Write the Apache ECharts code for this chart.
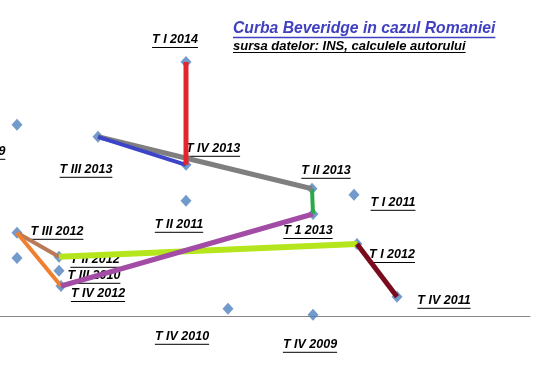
<!DOCTYPE html>
<html>
<head>
<meta charset="utf-8">
<script src="https://cdn.jsdelivr.net/npm/echarts@6/dist/echarts.min.js"></script>
<style>html,body{margin:0;padding:0;background:#fff}#c{width:551px;height:387px}</style>
</head>
<body>
<div id="c"></div>
<script>
// Quarter labels, unemployment rate (x) and vacancy rate (y)
const quarters = ['T IV 2009','T III 2010','T IV 2010','T I 2011','T II 2011','T IV 2011','T I 2012','T II 2012','T III 2012','T IV 2012','T 1 2013','T II 2013','T III 2013','T IV 2013','T I 2014','T III 2009',''];
const unemployment = [7.565, 6.295, 7.14, 7.77, 6.93, 7.985, 7.785, 6.295, 6.085, 6.305, 7.565, 7.56, 6.49, 6.93, 6.93, 6.085, 6.085];
const vacancy      = [0.403, 0.513, 0.418, 0.703, 0.688, 0.448, 0.58, 0.548, 0.608, 0.475, 0.655, 0.718, 0.848, 0.778, 1.035, 0.878, 0.545];

// Connected path segments (from quarter, to quarter)
const segments = [
  ['T III 2012','T II 2012'],
  ['T III 2012','T IV 2012'],
  ['T II 2012','T I 2012'],
  ['T I 2012','T IV 2011'],
  ['T IV 2012','T 1 2013'],
  ['T 1 2013','T II 2013'],
  ['T II 2013','T III 2013'],
  ['T III 2013','T IV 2013'],
  ['T IV 2013','T I 2014']
];

const titleText = 'Curba Beveridge in cazul Romaniei';
const subtitleText = 'sursa datelor: INS, calculele autorului';

// ---- styles / positions ----
const segColors = ['#B97A57','#F07F2F','#B5E61D','#7A0A1E','#A24CA6','#2BA84A','#7F7F7F','#3C45C8','#E3262E'];
const segWidths = [4,4,6,5,5,4,5,4,5];
const labelOffsets = [[-3,30],[35,5],[-46,28],[39,8],[-7,24],[47,4],[35,11],[36,3],[40,-1],[37,8],[-5,17],[14,-18],[-12,33],[27,-16],[-11,-22],[-38,27],[0,0]];

const mctx = document.createElement('canvas').getContext('2d');
function textWidth(t, font){ mctx.font = font; return mctx.measureText(t).width; }
const lblSize = 12.5;
const lblFont = 'italic bold ' + lblSize + 'px Arial';

const points = quarters.map((q,i)=>[unemployment[i], vacancy[i]]);
const idx = {}; quarters.forEach((q,i)=>{ if(q) idx[q]=i; });

const series = [];
series.push({
  type:'scatter', data: points, symbol:'diamond', symbolSize:[11,12],
  itemStyle:{color:'#4F81BD'}, z:2, silent:true
});
series.push({
  type:'custom', data: points, z:3, clip:false, silent:true,
  renderItem: function(params, api){
    const i = params.dataIndex;
    const txt = quarters[i];
    if(!txt) return null;
    const p = api.coord([api.value(0), api.value(1)]);
    const off = labelOffsets[i];
    const cx = p[0]+off[0], cy = p[1]+off[1];
    const w = textWidth(txt, lblFont);
    return {type:'group', children:[
      {type:'text', style:{text:txt, x:cx, y:cy, align:'center', verticalAlign:'middle',
        fontSize:lblSize, fontWeight:'bold', fontStyle:'italic', fontFamily:'Arial', fill:'#000'}},
      {type:'line', shape:{x1:cx-w/2, y1:cy+7.5, x2:cx+w/2, y2:cy+7.5}, style:{stroke:'#000', lineWidth:1}}
    ]};
  }
});
segments.forEach((s,k)=>{
  series.push({
    type:'line', data:[points[idx[s[0]]], points[idx[s[1]]]], showSymbol:false, symbol:'none',
    lineStyle:{color:segColors[k], width:segWidths[k], cap:'butt'}, z:4+k*0.01, clip:false, silent:true
  });
});

const tSize = 15.7, sSize = 13;
const tFont = 'italic bold ' + tSize + 'px Arial';
const sFont = 'italic bold ' + sSize + 'px Arial';
const tW = textWidth(titleText, tFont), sW = textWidth(subtitleText, sFont);

const chart = echarts.init(document.getElementById('c'), null, {renderer:'canvas'});
chart.setOption({
  animation:false,
  backgroundColor:'#fff',
  grid:{left:0, right:21, top:0, bottom:71},
  xAxis:{type:'value', min:6, max:8.65, axisLine:{show:true, lineStyle:{color:'#868686', width:1}},
    axisTick:{show:false}, axisLabel:{show:false}, splitLine:{show:false}},
  yAxis:{type:'value', min:0.4, max:1.19, show:false, splitLine:{show:false}},
  graphic:[
    {type:'text', left:233, top:21, style:{text:titleText, fontSize:tSize, fontWeight:'bold', fontStyle:'italic', fontFamily:'Arial', fill:'#4040C0'}, z:10},
    {type:'line', shape:{x1:233, y1:37.5, x2:233+tW, y2:37.5}, style:{stroke:'#4040C0', lineWidth:1.5}, z:10},
    {type:'text', left:233, top:40, style:{text:subtitleText, fontSize:sSize, fontWeight:'bold', fontStyle:'italic', fontFamily:'Arial', fill:'#000'}, z:10},
    {type:'line', shape:{x1:233, y1:52.5, x2:233+sW, y2:52.5}, style:{stroke:'#000', lineWidth:1}, z:10}
  ],
  series: series
});
</script>
</body>
</html>
